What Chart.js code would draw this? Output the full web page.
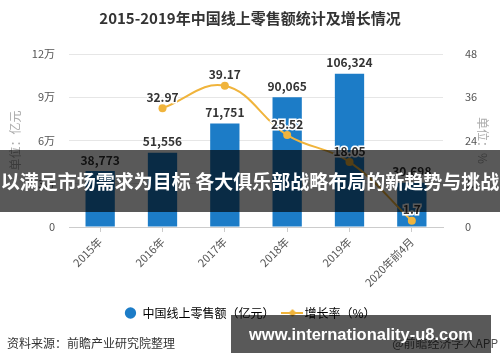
<!DOCTYPE html>
<html>
<head>
<meta charset="utf-8">
<script src="https://cdn.jsdelivr.net/npm/chart.js@4"></script>
<style>
  body { margin: 0; background: #fff; }
  #wrap { position: relative; width: 500px; height: 362px; overflow: hidden; font-family: "Noto Sans CJK SC", sans-serif; }
  #source { position: absolute; left: 7px; top: 334px; font-size: 12px; color: #333; }
  #app { position: absolute; right: 2px; top: 334px; font-size: 12px; color: #555; }
  #banner { position: absolute; left: 0; top: 150px; width: 500px; height: 62px; background: rgba(0,0,0,0.65);
            color: #fff; font-weight: bold; font-size: 19px; line-height: 62px; text-align: center; white-space: nowrap; }
  #url { position: absolute; left: 231px; top: 315px; width: 260px; height: 38px; background: rgba(0,0,0,0.65);
         color: #fff; font-weight: bold; font-size: 16.5px; line-height: 38px; text-align: center; white-space: nowrap;
         font-family: "Liberation Sans", sans-serif; }
</style>
</head>
<body>
<div id="wrap">
  <canvas id="chart" width="500" height="362"></canvas>
  <div id="source">资料来源：前瞻产业研究院整理</div>
  <div id="app">@前瞻经济学人APP</div>
  <div id="banner">以满足市场需求为目标 各大俱乐部战略布局的新趋势与挑战</div>
  <div id="url">www.internationality-u8.com</div>
</div>
<script>
const years = ['2015年', '2016年', '2017年', '2018年', '2019年', '2020年前4月'];
const sales = [38773, 51556, 71751, 90065, 106324, 30698];   // 亿元
const growth = [null, 32.97, 39.17, 25.52, 18.05, 1.7];      // %

const font = '"Noto Sans CJK SC", sans-serif';
const blue = '#1c7cc7';
const gold = '#f0b43c';

// legend marker for the line: short line with a diamond
const lineMark = document.createElement('canvas');
lineMark.width = 22; lineMark.height = 10;
(function () {
  const c = lineMark.getContext('2d');
  c.strokeStyle = gold; c.lineWidth = 2;
  c.beginPath(); c.moveTo(0, 5); c.lineTo(22, 5); c.stroke();
  c.fillStyle = gold;
  c.beginPath(); c.moveTo(11, 1); c.lineTo(15, 5); c.lineTo(11, 9); c.lineTo(7, 5); c.closePath(); c.fill();
})();

// value labels above bars and points
const valueLabels = {
  id: 'valueLabels',
  afterDatasetsDraw(chart) {
    const ctx = chart.ctx;
    ctx.save();
    ctx.font = 'bold 12px ' + font;
    ctx.textAlign = 'center';
    ctx.textBaseline = 'bottom';
    chart.data.datasets.forEach((ds, i) => {
      const meta = chart.getDatasetMeta(i);
      meta.data.forEach((el, j) => {
        const v = ds.data[j];
        if (v === null) return;
        const txt = ds.type === 'bar' ? v.toLocaleString('en-US') : String(v);
        const y = el.y - 5;
        if (ds.type === 'line') {
          ctx.lineWidth = 3;
          ctx.strokeStyle = '#fff';
          ctx.strokeText(txt, el.x, y);
        }
        ctx.fillStyle = '#333';
        ctx.fillText(txt, el.x, y);
      });
    });
    ctx.restore();
  }
};

new Chart(document.getElementById('chart'), {
  data: {
    labels: years,
    datasets: [{
      type: 'line',
      label: '增长率（%）',
      data: growth,
      yAxisID: 'y1',
      borderColor: gold,
      backgroundColor: gold,
      borderWidth: 2,
      pointRadius: 4,
      pointBackgroundColor: gold,
      pointBorderWidth: 0,
      tension: 0.4,
      order: 0
    }, {
      type: 'bar',
      label: '中国线上零售额（亿元）',
      data: sales,
      yAxisID: 'y',
      backgroundColor: blue,
      barPercentage: 0.47,
      categoryPercentage: 1,
      order: 1
    }]
  },
  options: {
    responsive: false,
    animation: false,
    layout: { padding: { bottom: 33 } },
    plugins: {
      title: {
        display: true,
        text: '2015-2019年中国线上零售额统计及增长情况',
        color: '#333',
        font: { family: font, size: 15, weight: 'bold' },
        padding: { top: 9, bottom: 27 }
      },
      legend: {
        position: 'bottom',
        labels: {
          usePointStyle: true,
          boxHeight: 8,
          color: '#333',
          font: { family: font, size: 12 },
          padding: 12,
          generateLabels() {
            return [
              { text: '中国线上零售额（亿元）', pointStyle: 'circle', fillStyle: blue, strokeStyle: blue, lineWidth: 0, datasetIndex: 1 },
              { text: '增长率（%）', pointStyle: lineMark, fillStyle: gold, strokeStyle: gold, lineWidth: 0, datasetIndex: 0 }
            ];
          }
        }
      },
      tooltip: { enabled: false }
    },
    scales: {
      x: {
        afterFit(s) { s.height = 68; },
        grid: { drawOnChartArea: false, offset: false, tickLength: 5, color: '#ccc' },
        border: { color: '#ccc' },
        ticks: { minRotation: 45, maxRotation: 45, color: '#555', font: { family: font, size: 11 } }
      },
      y: {
        position: 'left',
        min: 0, max: 120000,
        afterFit(s) { s.width = 69; },
        ticks: {
          stepSize: 30000, padding: 14, color: '#555', font: { family: font, size: 11 },
          callback: v => v === 0 ? '0' : (v / 10000) + '万'
        },
        grid: { color: '#e6e6e6', drawTicks: false },
        border: { display: false },
        title: { display: true, text: '单位：亿元', color: '#aaa', font: { family: font, size: 12 }, padding: { top: 8, bottom: 0 } }
      },
      y1: {
        position: 'right',
        min: 0, max: 48,
        afterFit(s) { s.width = 57; },
        ticks: { stepSize: 12, padding: 14, color: '#555', font: { family: font, size: 11 } },
        grid: { display: false },
        border: { display: false },
        title: { display: true, text: '单位：%', color: '#aaa', font: { family: font, size: 12 }, padding: { top: 10, bottom: 0 } }
      }
    }
  },
  plugins: [valueLabels]
});
</script>
</body>
</html>
